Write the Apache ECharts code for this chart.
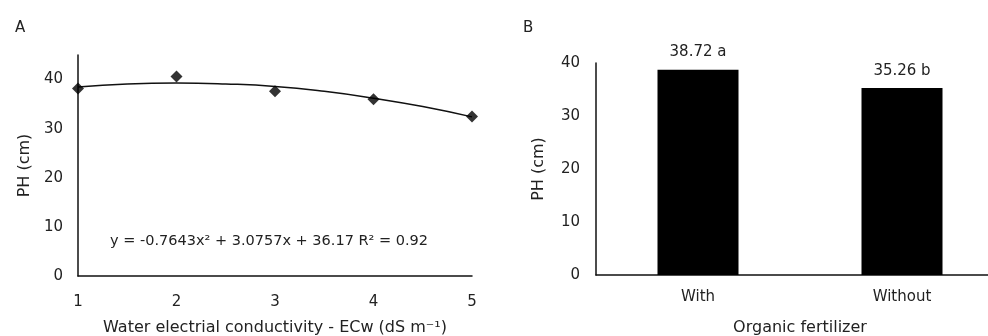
<!DOCTYPE html>
<html>
<head>
<meta charset="utf-8">
<script src="https://cdn.jsdelivr.net/npm/echarts@6/dist/echarts.min.js"></script>
<style>
  html, body { margin: 0; padding: 0; background: #fff; }
  #chart { width: 988px; height: 336px; }
</style>
</head>
<body>
<div id="chart"></div>
<script>
const ecwLevels = [1, 2, 3, 4, 5];
const phObserved = [38.2, 40.6, 37.6, 36.0, 32.5];
const curveX = [1, 1.5, 2, 2.5, 3, 3.5, 4, 4.5, 5];
const curveY = [38.5, 39.1, 39.3, 39.1, 38.6, 37.6, 36.2, 34.5, 32.4];
const equationText = "y = -0.7643x² + 3.0757x + 36.17 R² = 0.92";

// panel B: bars
const fertCategories = ["With", "Without"];
const fertValues = [38.72, 35.26];
const fertLetters = ["a", "b"];

const FONT = "DejaVu Sans";
const TXT = "#222";

const chart = echarts.init(document.getElementById("chart"));

const axisLabelStyle = { color: TXT, fontSize: 15, fontFamily: FONT };
const axisLineStyle = { show: true, lineStyle: { color: "#111", width: 1.5 } };
const nameStyle = { color: TXT, fontSize: 16, fontFamily: FONT };

chart.setOption({
  animation: false,
  backgroundColor: "#fff",
  title: [
    { text: "A", left: 10, top: 16, textStyle: { fontSize: 15, fontWeight: "normal", color: TXT, fontFamily: FONT } },
    { text: "B", left: 518, top: 16, textStyle: { fontSize: 15, fontWeight: "normal", color: TXT, fontFamily: FONT } }
  ],
  grid: [
    { left: 78, width: 394, top: 55, height: 221, outerBoundsMode: "none" },
    { left: 596, width: 408, top: 63, height: 212, outerBoundsMode: "none" }
  ],
  xAxis: [
    {
      gridIndex: 0, type: "value", min: 1, max: 5, interval: 1,
      axisLine: axisLineStyle, axisTick: { show: false }, splitLine: { show: false },
      axisLabel: Object.assign({ margin: 19 }, axisLabelStyle),
      name: "Water electrial conductivity - ECw (dS m⁻¹)",
      nameLocation: "middle", nameGap: 44, nameTextStyle: nameStyle
    },
    {
      gridIndex: 1, type: "category", data: fertCategories,
      axisLine: axisLineStyle, axisTick: { show: false },
      axisLabel: Object.assign({ margin: 15 }, axisLabelStyle),
      name: "Organic fertilizer",
      nameLocation: "middle", nameGap: 45, nameTextStyle: nameStyle
    }
  ],
  yAxis: [
    {
      gridIndex: 0, type: "value", min: 0, max: 45, interval: 10,
      axisLine: axisLineStyle, axisTick: { show: false }, splitLine: { show: false },
      axisLabel: Object.assign({ margin: 15, showMaxLabel: false }, axisLabelStyle),
      name: "PH (cm)", nameLocation: "middle", nameGap: 45, nameRotate: 90,
      nameTextStyle: nameStyle
    },
    {
      gridIndex: 1, type: "value", min: 0, max: 40, interval: 10,
      axisLine: axisLineStyle, axisTick: { show: false }, splitLine: { show: false },
      axisLabel: Object.assign({ margin: 16 }, axisLabelStyle),
      name: "PH (cm)", nameLocation: "middle", nameGap: 49, nameRotate: 90,
      nameTextStyle: nameStyle
    }
  ],
  graphic: [
    {
      type: "text", left: 110, top: 234,
      style: { text: equationText, fill: TXT, fontSize: 14.5, fontFamily: FONT }
    }
  ],
  series: [
    {
      type: "line", xAxisIndex: 0, yAxisIndex: 0, smooth: true, symbol: "none",
      data: curveX.map((x, i) => [x, curveY[i]]),
      lineStyle: { color: "#111", width: 1.5 }, z: 2
    },
    {
      type: "scatter", xAxisIndex: 0, yAxisIndex: 0, symbol: "diamond", symbolSize: 12,
      data: ecwLevels.map((x, i) => [x, phObserved[i]]),
      itemStyle: { color: "#000" }, z: 3
    },
    {
      type: "bar", xAxisIndex: 1, yAxisIndex: 1, barWidth: 81,
      data: fertValues,
      itemStyle: { color: "#000" },
      label: {
        show: true, position: "top", distance: 10,
        color: TXT, fontSize: 15, fontFamily: FONT,
        formatter: (p) => p.value.toFixed(2) + " " + fertLetters[p.dataIndex]
      }
    }
  ]
});
</script>
</body>
</html>
